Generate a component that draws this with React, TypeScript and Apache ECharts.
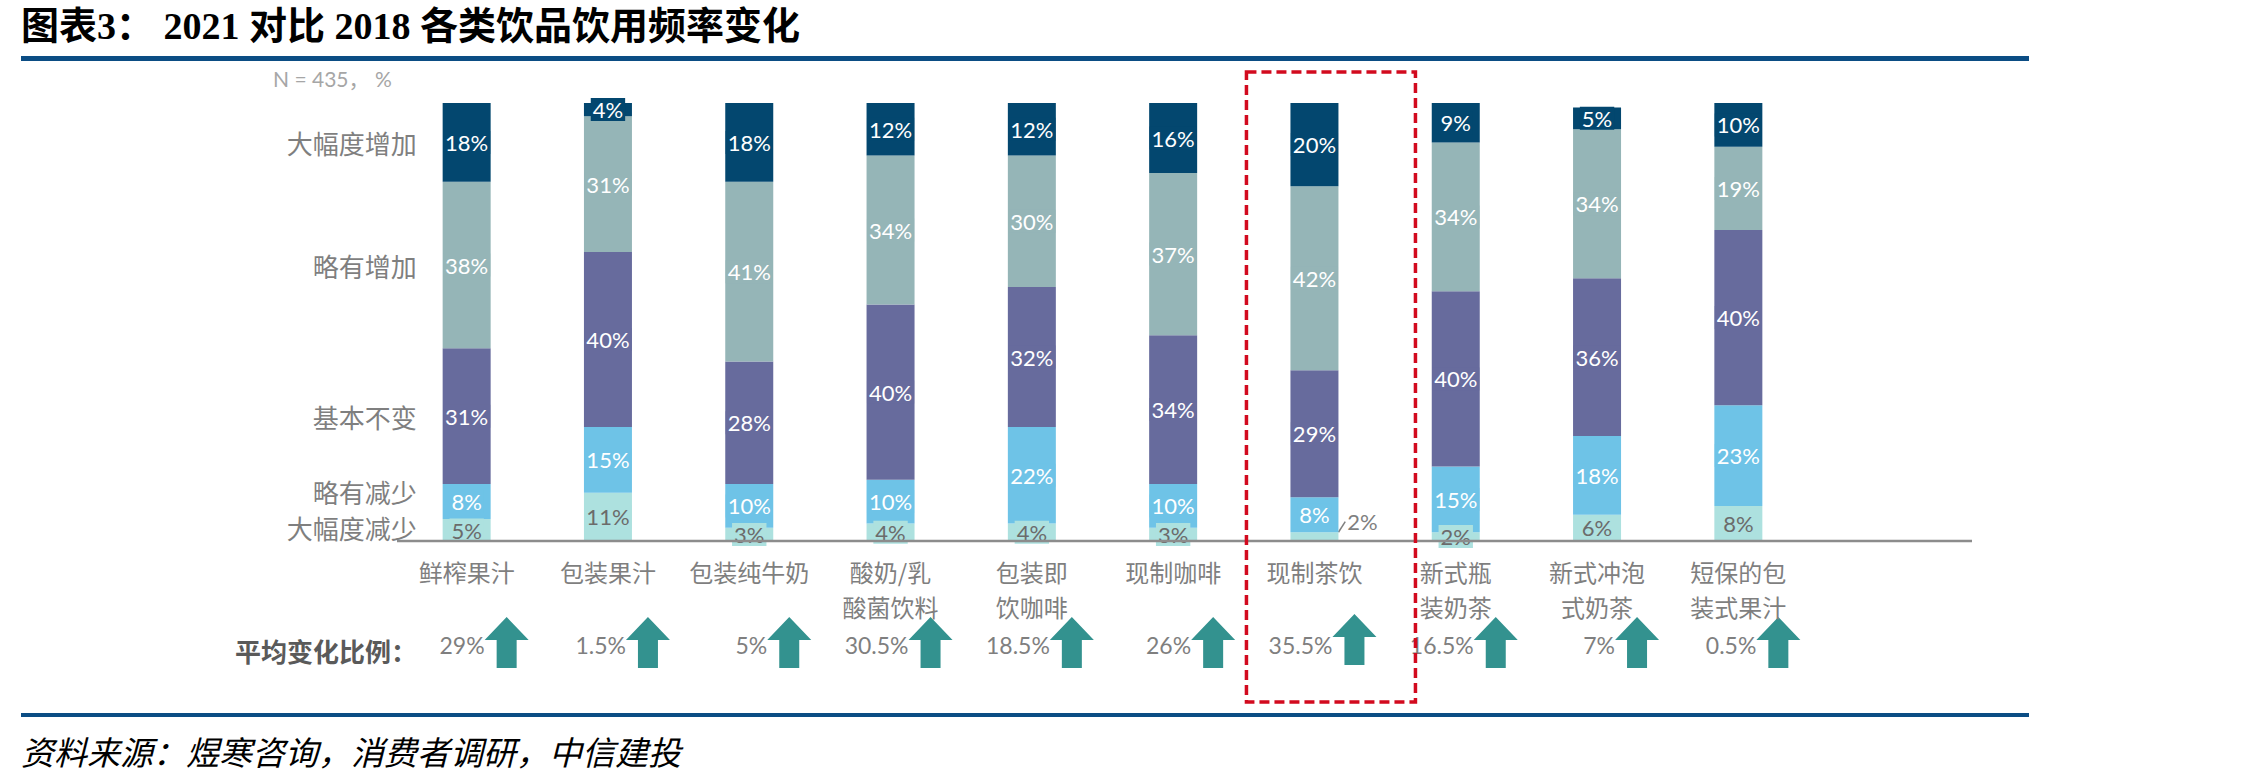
import React, { useEffect, useRef } from 'react';
import * as echarts from 'echarts';

const categories = [
  '鲜榨果汁', '包装果汁', '包装纯牛奶', '酸奶/乳\n酸菌饮料', '包装即\n饮咖啡',
  '现制咖啡', '现制茶饮', '新式瓶\n装奶茶', '新式冲泡\n式奶茶', '短保的包\n装式果汁',
];
const seriesNames = ['大幅度减少', '略有减少', '基本不变', '略有增加', '大幅度增加'];
const bigDecrease = [5, 11, 3, 4, 4, 3, 2, 2, 6, 8];
const slightDecrease = [8, 15, 10, 10, 22, 10, 8, 15, 18, 23];
const unchanged = [31, 40, 28, 40, 32, 34, 29, 40, 36, 40];
const slightIncrease = [38, 31, 41, 34, 30, 37, 42, 34, 34, 19];
const bigIncrease = [18, 4, 18, 12, 12, 16, 20, 9, 5, 10];
const avgChange = [29, 1.5, 5, 30.5, 18.5, 26, 35.5, 16.5, 7, 0.5];
const highlightIndex = 6;

const titleText = '图表3： 2021 对比 2018 各类饮品饮用频率变化';
const sampleNote = 'N = 435， %';
const avgRowLabel = '平均变化比例：';
const sourceText = '资料来源：煜寒咨询，消费者调研，中信建投';

const colors = ['#ADE1DF', '#6EC3E7', '#676B9D', '#95B5B7', '#03476F'];
const labelColors = ['#6B6B6B', '#FFFFFF', '#FFFFFF', '#FFFFFF', '#FFFFFF'];
const rowNudge = [-3, -10, 0, 0, 0];

const W = 2244;
const H = 782;
const NUM_FONT = 'Lato, "Open Sans", "Noto Sans CJK SC", sans-serif';
const CJK_FONT = '"Noto Sans CJK SC", "Noto Sans", sans-serif';

export default function App() {
  const ref = useRef<HTMLDivElement>(null);

  useEffect(() => {
    if (!ref.current) return;
    const chart = echarts.init(ref.current, null, { renderer: 'svg', width: W, height: H });
    const values = [bigDecrease, slightDecrease, unchanged, slightIncrease, bigIncrease];

    const series = values.map((arr, s) => ({
      name: seriesNames[s],
      type: 'bar',
      stack: 'total',
      barWidth: 48,
      itemStyle: { color: colors[s] },
      label: {
        show: true,
        position: 'inside',
        formatter: '{c}%',
        color: labelColors[s],
        fontSize: 22,
        fontFamily: NUM_FONT,
        backgroundColor: colors[s],
        padding: [1, 2, 0, 2],
      },
      labelLayout: s === 0
        ? (p: any) => (p.dataIndex === highlightIndex ? { dx: 48, dy: -15 } : {})
        : undefined,
      data: arr.map((v, i) => {
        if (s === 0 && i === highlightIndex) {
          return {
            value: v,
            label: { backgroundColor: 'transparent', color: '#7F7F7F' },
            labelLine: { show: true, lineStyle: { color: '#7F7F7F', width: 1.5 }, length: 0 },
          };
        }
        return v;
      }),
    }));

    const option: any = {
      animation: false,
      backgroundColor: '#FFFFFF',
      grid: { left: 396, width: 1413, top: 103, height: 438 },
      xAxis: {
        type: 'category',
        data: categories,
        axisLine: { show: false },
        axisTick: { show: false },
        axisLabel: {
          interval: 0,
          fontSize: 24,
          lineHeight: 35,
          color: '#7F7F7F',
          margin: 13,
          fontFamily: CJK_FONT,
        },
      },
      yAxis: { type: 'value', min: 0, max: 100, show: false },
      series,
    };
    chart.setOption(option);

    const px = (i: number, v: number) => chart.convertToPixel({ gridIndex: 0 }, [i, v]) as number[];
    const baseY = px(0, 0)[1];
    const firstX = px(0, 0)[0];
    const step = px(1, 0)[0] - firstX;

    const graphic: any[] = [];
    // title
    graphic.push({
      type: 'text', left: 21, top: 7,
      style: {
        text: titleText, fill: '#000000', fontSize: 38, fontWeight: 'bold',
        fontFamily: '"Liberation Serif", "Noto Sans CJK SC", serif',
      },
    });
    // rules
    graphic.push({ type: 'rect', shape: { x: 21, y: 56, width: 2008, height: 5 }, style: { fill: '#0B4D84' } });
    graphic.push({ type: 'rect', shape: { x: 21, y: 713, width: 2008, height: 4 }, style: { fill: '#0B4D84' } });
    // sample note
    graphic.push({
      type: 'text', x: 273, y: 78,
      style: { text: sampleNote, fill: '#A6A6A6', fontSize: 21, fontFamily: NUM_FONT, verticalAlign: 'middle' },
    });
    // row labels along first bar
    let cum = 0;
    values.forEach((arr, s) => {
      const mid = cum + arr[0] / 2;
      cum += arr[0];
      graphic.push({
        type: 'text', x: firstX - 50, y: px(0, mid)[1] + rowNudge[s],
        style: {
          text: seriesNames[s], fill: '#7F7F7F', fontSize: 26, fontFamily: CJK_FONT,
          align: 'right', verticalAlign: 'middle',
        },
      });
    });
    // baseline
    graphic.push({
      type: 'line', shape: { x1: firstX - step / 2 + 1, y1: baseY, x2: 1972, y2: baseY },
      style: { stroke: '#8C8C8C', lineWidth: 2.5 }, z: 10,
    });
    // average change row
    graphic.push({
      type: 'text', x: 235, y: 650,
      style: {
        text: avgRowLabel, fill: '#5A5A5A', fontSize: 26, fontWeight: 'bold', fontFamily: CJK_FONT,
        verticalAlign: 'middle',
      },
    });
    avgChange.forEach((v, i) => {
      const cx = px(i, 0)[0] + 40;
      const top = 617 - (i === highlightIndex ? 3 : 0);
      graphic.push({
        type: 'polygon',
        shape: {
          points: [
            [cx - 22, top + 23], [cx, top], [cx + 22, top + 23], [cx + 10, top + 23],
            [cx + 10, top + 51], [cx - 10, top + 51], [cx - 10, top + 23],
          ],
        },
        style: { fill: '#33928F' },
      });
      graphic.push({
        type: 'text', x: cx - 22, y: 645,
        style: {
          text: `${v}%`, fill: '#7F7F7F', fontSize: 23, fontFamily: NUM_FONT,
          align: 'right', verticalAlign: 'middle',
        },
      });
    });
    // highlight box
    const hx = px(highlightIndex, 0)[0];
    graphic.push({
      type: 'rect', shape: { x: hx - 68, y: 72, width: 169, height: 630 },
      style: { fill: 'none', stroke: '#D20A1E', lineWidth: 3.5, lineDash: [10, 5] }, z: 20,
    });
    // source
    graphic.push({
      type: 'text', x: 21, y: 751,
      style: {
        text: sourceText, fill: '#000000', fontSize: 33, fontStyle: 'italic',
        fontFamily: CJK_FONT, verticalAlign: 'middle',
      },
    });

    chart.setOption({ graphic });

    return () => chart.dispose();
  }, []);

  return (
    <div
      ref={ref}
      style={{ position: 'fixed', left: 0, top: 0, width: W, height: H, background: '#FFFFFF' }}
    />
  );
}
